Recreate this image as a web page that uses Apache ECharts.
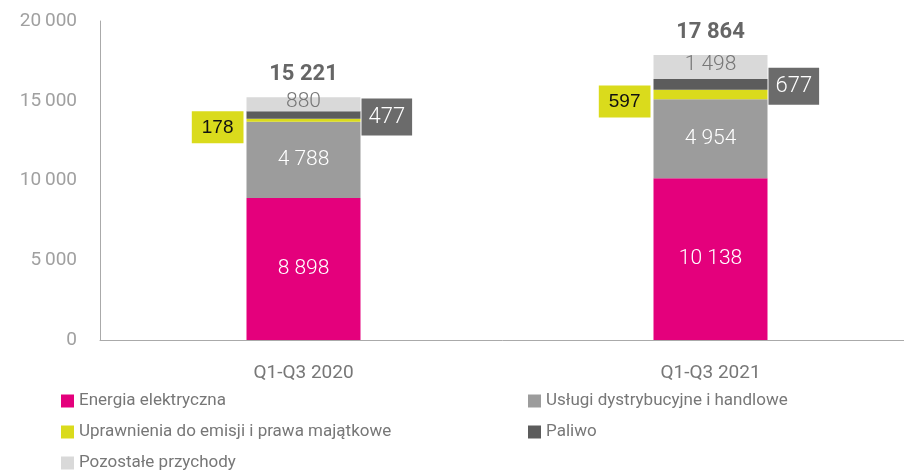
<!DOCTYPE html>
<html>
<head>
<meta charset="utf-8">
<script src="https://cdn.jsdelivr.net/npm/echarts@6/dist/echarts.min.js"></script>
<style>
  html, body { margin: 0; padding: 0; background: #fff; }
  #chart { width: 904px; height: 472px; }
</style>
</head>
<body>
<div id="chart"></div>
<script>
var categories = ['Q1-Q3 2020', 'Q1-Q3 2021'];
var energia = [8898, 10138];
var uslugi = [4788, 4954];
var uprawnienia = [178, 597];
var paliwo = [477, 677];
var pozostale = [880, 1498];
var totals = [15221, 17864];

function fmt(v, sep) {
    return String(v).replace(/\B(?=(\d{3})+(?!\d))/g, sep || ' ');
}

var font = 'Roboto';

function seg(name, data, color, label) {
    return {
        name: name,
        type: 'bar',
        stack: 'total',
        barWidth: 114,
        data: data,
        itemStyle: { color: color },
        label: label,
        emphasis: { disabled: true }
    };
}

var legendText = { fontFamily: font, fontSize: 17, color: '#777', lineHeight: 20 };

var option = {
    animation: false,
    grid: { left: 100, right: -10, top: 21, bottom: 132, outerBoundsMode: 'none' },
    legend: [
        {
            left: 61, top: 391, orient: 'vertical', padding: 0, height: 100,
            itemWidth: 13, itemHeight: 13, itemGap: 11,
            icon: 'rect',
            data: ['Energia elektryczna', 'Uprawnienia do emisji i prawa majątkowe', 'Pozostałe przychody'],
            textStyle: legendText
        },
        {
            left: 528, top: 391, orient: 'vertical', padding: 0, height: 100,
            itemWidth: 13, itemHeight: 13, itemGap: 11,
            icon: 'rect',
            data: ['Usługi dystrybucyjne i handlowe', 'Paliwo'],
            textStyle: legendText
        }
    ],
    xAxis: {
        type: 'category',
        data: categories,
        axisLine: { lineStyle: { color: '#aaa' } },
        axisTick: { show: false },
        axisLabel: { fontFamily: font, fontSize: 19, color: '#777', margin: 24 }
    },
    yAxis: {
        type: 'value',
        min: 0, max: 20000, interval: 5000,
        axisLine: { show: true, lineStyle: { color: '#aaa' } },
        axisTick: { show: false },
        splitLine: { show: false },
        axisLabel: {
            fontFamily: font, fontSize: 19, color: '#a0a0a0', margin: 23,
            formatter: function (v) { return fmt(v, '\u2009'); }
        }
    },
    series: [
        seg('Energia elektryczna', energia, '#e4007c', {
            show: true, position: 'inside', color: '#fff',
            fontFamily: font, fontWeight: 300, fontSize: 21,
            formatter: function (p) { return fmt(p.value); }
        }),
        seg('Usługi dystrybucyjne i handlowe', uslugi, '#9c9c9c', {
            show: true, position: 'inside', color: '#fff',
            fontFamily: font, fontWeight: 300, fontSize: 21,
            formatter: function (p) { return fmt(p.value); }
        }),
        seg('Uprawnienia do emisji i prawa majątkowe', uprawnienia, '#dadb1c', {
            show: true, position: 'left', distance: 3, offset: [0, 7],
            color: '#111', backgroundColor: '#dadb1c',
            fontFamily: 'Liberation Sans', fontSize: 19,
            padding: [7, 10, 6, 10],
            formatter: function (p) { return fmt(p.value); }
        }),
        seg('Paliwo', paliwo, '#5c5c5c', {
            show: true, position: 'right', distance: 1, offset: [0, 2],
            color: '#fff', backgroundColor: '#6b6b6b',
            fontFamily: font, fontWeight: 300, fontSize: 22,
            padding: [8, 7, 7, 7],
            formatter: function (p) { return fmt(p.value); }
        }),
        seg('Pozostałe przychody', pozostale, '#d9d9d9', {
            show: true, position: 'inside', offset: [0, -2], color: '#777',
            fontFamily: font, fontWeight: 300, fontSize: 21,
            formatter: function (p) { return fmt(p.value); }
        }),
        {
            name: 'Suma',
            type: 'bar',
            barWidth: 114,
            barGap: '-100%',
            z: 0,
            silent: true,
            data: totals,
            itemStyle: { color: 'rgba(0,0,0,0)' },
            label: {
                show: true, position: 'top', distance: 12,
                color: '#666', fontFamily: font, fontWeight: 'bold', fontSize: 22,
                formatter: function (p) { return fmt(p.value); }
            }
        }
    ]
};

echarts.init(document.getElementById('chart')).setOption(option);
</script>
</body>
</html>
